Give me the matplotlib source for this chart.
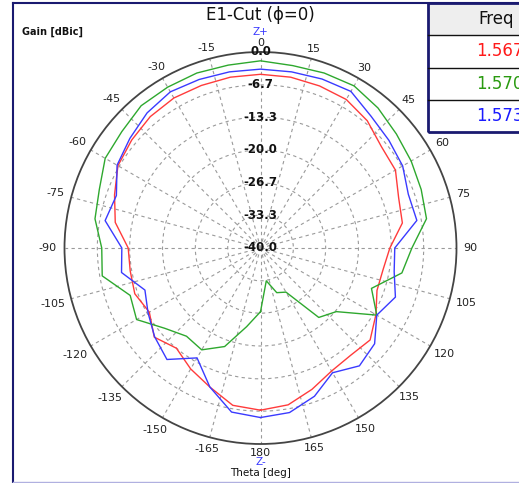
import numpy as np
import matplotlib
matplotlib.use("Agg")
import matplotlib.pyplot as plt
from matplotlib.patches import Rectangle
from matplotlib.lines import Line2D

# ---- data ----
theta_deg = [-180, -170, -160, -150, -140, -130, -120, -110, -100, -90, -80, -70, -60, -50, -40, -30, -20, -10,
             0, 10, 20, 30, 40, 50, 60, 70, 80, 90, 100, 110, 120, 130, 140, 150, 160, 170, 180]
red_db = [-6.9, -7.4, -9.8, -11.5, -13.3, -11.7, -13.8, -12.7, -13.0, -13.0, -9.9, -8.3, -6.4, -5.7, -5.0, -4.65, -4.7, -4.6,
          -4.55, -4.6, -4.8, -5.0, -6.1, -7.8, -8.2, -10.0, -10.6, -13.6, -14.6, -14.7, -12.8, -10.8, -11.4, -11.0, -9.3, -7.5, -6.9]
green_db = [-27.0, -23.7, -18.6, -16.0, -16.5, -14.5, -10.8, -11.7, -7.2, -7.6, -5.7, -5.0, -3.4, -3.05, -2.1, -2.1, -2.0, -2.1,
            -1.8, -2.2, -2.0, -1.8, -2.7, -3.8, -4.5, -5.1, -5.6, -9.1, -10.7, -15.9, -12.6, -19.8, -21.5, -29.6, -30.3, -33.2, -27.0]
blue_db = [-5.4, -6.0, -9.8, -14.1, -10.3, -11.8, -13.5, -14.9, -11.2, -11.7, -7.8, -8.7, -6.2, -5.2, -4.0, -3.2, -3.4, -3.5,
           -3.5, -3.5, -3.3, -3.1, -4.9, -5.8, -6.5, -7.9, -7.6, -12.6, -12.3, -10.7, -12.6, -9.6, -8.6, -10.6, -7.8, -5.9, -5.4]

freq_labels = ["1.567", "1.570", "1.573"]
series_colors = ["#ff3b3b", "#2ea82e", "#3a3aff"]
table_text_colors = ["#ff1a1a", "#2a9a10", "#1a1aff"]

r_ticks = [-40.0, -33.3, -26.7, -20.0, -13.3, -6.7, 0.0]
r_tick_labels = ["-40.0", "-33.3", "-26.7", "-20.0", "-13.3", "-6.7", "0.0"]
theta_ticks = list(range(0, 360, 15))
theta_tick_labels = [str(a) if a <= 180 else str(a - 360) for a in theta_ticks]

# ---- figure ----
W, H = 519, 483
fig = plt.figure(figsize=(W / 100, H / 100), dpi=100)
fig.patch.set_facecolor("white")

cx, cy, R = 260.5, 248, 196
ax = fig.add_axes([(cx - R) / W, 1 - (cy + R) / H, 2 * R / W, 2 * R / H], projection="polar")
ax.set_theta_zero_location("N")
ax.set_theta_direction(-1)
ax.set_rlim(-40, 0)
ax.set_rticks([t for t in r_ticks if -40 < t < 0])
ax.set_yticklabels([])
ax.set_thetagrids(theta_ticks, [""] * len(theta_ticks))
ax.grid(True, linestyle=(0, (3, 3)), color="#9a9a9a", linewidth=0.8)
ax.spines["polar"].set_color("#444444")
ax.spines["polar"].set_linewidth(1.3)

th = np.deg2rad(theta_deg)
for vals, col in zip([red_db, green_db, blue_db], series_colors):
    ax.plot(th, vals, color=col, linewidth=1.0, zorder=3)

for rv, lab in zip(r_ticks, r_tick_labels):
    ax.text(0, rv, lab, ha="center", va="center", fontsize=8.5, fontweight="bold",
            color="#111111", zorder=4, family="DejaVu Sans")

# angular labels placed just outside the circle
for a, lab in zip(theta_ticks, theta_tick_labels):
    ar = np.deg2rad(a)
    w = len(lab) * 5.3
    d = 205 + 0.5 * w * abs(np.sin(ar))
    px = cx + d * np.sin(ar)
    py = cy - d * np.cos(ar)
    fig.text(px / W, 1 - py / H, lab, ha="center", va="center", fontsize=8, color="#222222")

# ---- annotations ----
fig.text(cx / W, 1 - 15 / H, "E1-Cut (ϕ=0)", ha="center", va="center", fontsize=12, color="#111111")
fig.text(22 / W, 1 - 32 / H, "Gain [dBic]", ha="left", va="center", fontsize=7, fontweight="bold", color="#111111")
fig.text(cx / W, 1 - 32 / H, "Z+", ha="center", va="center", fontsize=7.5, color="#3a3aff")
fig.text(cx / W, 1 - 462 / H, "Z-", ha="center", va="center", fontsize=7.5, color="#3a3aff")
fig.text(cx / W, 1 - 473 / H, "Theta [deg]", ha="center", va="center", fontsize=7.5, color="#111111")

# outer frame
fig.add_artist(Line2D([12.5 / W, 12.5 / W], [1 - 3 / H, 1 - 482 / H], color="#1a1a70", lw=1.5))
fig.add_artist(Line2D([12.5 / W, 1.0], [1 - 3 / H, 1 - 3 / H], color="#1a1a70", lw=1.5))
fig.add_artist(Line2D([12.5 / W, 1.0], [1 - 481.5 / H, 1 - 481.5 / H], color="#b0b0e0", lw=1.0))

# table
tx0, ty0, ty1 = 428, 3, 132
fig.add_artist(Rectangle((tx0 / W, 1 - 35 / H), (W - tx0 + 5) / W, 32 / H, facecolor="#eeeeee",
                         edgecolor="none", transform=fig.transFigure))
fig.add_artist(Rectangle((tx0 / W, 1 - ty1 / H), (W - tx0 + 5) / W, (ty1 - ty0) / H, facecolor="none",
                         edgecolor="#1a1a70", lw=2, transform=fig.transFigure))
for yl in [35, 67.5, 100]:
    fig.add_artist(Line2D([tx0 / W, 1.0], [1 - yl / H, 1 - yl / H], color="#111111", lw=1.0))
fig.text(478 / W, 1 - 19 / H, "Freq", ha="left", va="center", fontsize=12, color="#111111")
for i, (lab, col) in enumerate(zip(freq_labels, table_text_colors)):
    ycen = [51, 84, 116][i]
    fig.text(476 / W, 1 - ycen / H, lab, ha="left", va="center", fontsize=12, color=col)

fig.savefig("out.png", dpi=100)
